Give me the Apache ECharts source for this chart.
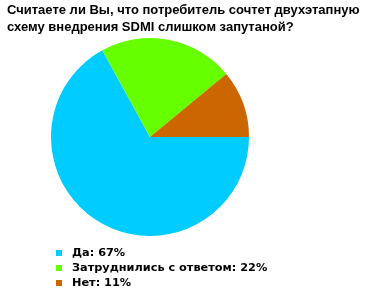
<!DOCTYPE html>
<html><head><meta charset="utf-8">
<script src="https://cdn.jsdelivr.net/npm/echarts@6/dist/echarts.min.js"></script>
<style>html,body{margin:0;padding:0;background:#fff}#c{width:369px;height:293px}</style>
</head><body><div id="c"></div>
<script>
const titleLines = ['Считаете ли Вы, что потребитель сочтет двухэтапную', 'схему внедрения SDMI слишком запутаной?'];
const categories = ['Да', 'Затруднились с ответом', 'Нет'];
const values = [67, 22, 11];
const colors = ['#00CCFF', '#66FF00', '#CC6600'];

const chart = echarts.init(document.getElementById('c'), null, {renderer: 'canvas'});
chart.setOption({
  animation: false,
  title: {
    text: titleLines.join('\n'),
    left: 2, top: -3,
    textStyle: {fontFamily: 'Liberation Sans', fontWeight: 'bold', fontSize: 13, lineHeight: 17, color: '#000'}
  },
  legend: {
    orient: 'vertical', left: 51, top: 240.5, height: 60,
    padding: 5,
    icon: 'rect', itemWidth: 6, itemHeight: 6, itemGap: 0,
    data: categories,
    formatter: function (name) { return name + ': ' + values[categories.indexOf(name)] + '%'; },
    textStyle: {fontFamily: 'DejaVu Sans', fontWeight: 'bold', fontSize: 11.3, lineHeight: 15, color: '#000', padding: [0, 0, 0, 5]}
  },
  series: [{
    type: 'pie',
    center: [150, 137], radius: 99,
    startAngle: 0, clockwise: true,
    label: {show: false}, labelLine: {show: false},
    emphasis: {disabled: true},
    itemStyle: {borderWidth: 0},
    data: categories.map((c, i) => ({name: c, value: values[i], itemStyle: {color: colors[i]}}))
  }]
});
</script></body></html>
